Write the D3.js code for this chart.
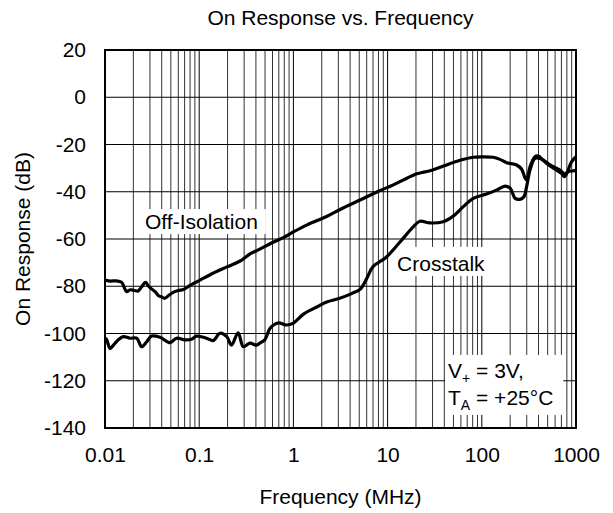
<!DOCTYPE html>
<html>
<head>
<meta charset="utf-8">
<script src="https://cdn.jsdelivr.net/npm/d3@7"></script>
<style>
  body { margin: 0; background: #fff; }
  svg text { font-family: "Liberation Sans", Arial, sans-serif; fill: #000; }
</style>
</head>
<body>
<div id="chart"></div>
<script>
// chart texts
const title = "On Response vs. Frequency";
const xLabel = "Frequency (MHz)";
const yLabel = "On Response (dB)";

// axis ticks
const xTicks = [0.01, 0.1, 1, 10, 100, 1000];
const yTicks = [20, 0, -20, -40, -60, -80, -100, -120, -140];

// Off-Isolation curve (MHz, dB)
const offIsoFreq = [0.01, 0.0115, 0.013, 0.015, 0.016, 0.017, 0.0185, 0.0205, 0.0225, 0.0245,
  0.027, 0.029, 0.031, 0.034, 0.037, 0.040, 0.043, 0.047, 0.053, 0.06, 0.068, 0.08, 0.1,
  0.14, 0.2, 0.28, 0.35, 0.44, 0.6, 0.8, 1.0, 1.4, 2.25, 3.2, 5.1, 8, 11.5, 16, 20.4, 25,
  30, 40, 58.7, 81, 100, 132, 156, 184, 234, 265, 287, 300, 325, 367, 398, 450, 552, 676,
  764, 828, 1000];
const offIsoDb = [-77.4, -77.8, -77.7, -78.3, -80.5, -82.3, -81.5, -81.8, -82.0, -80.2,
  -78.3, -80.0, -81.0, -82.3, -84.0, -84.5, -85.1, -84.0, -82.6, -81.8, -81.4, -79.6, -77.6,
  -74.5, -71.7, -69.0, -66.2, -64.3, -61.5, -59.2, -57.0, -54.0, -50.5, -47.3, -43.5, -39.8,
  -37.1, -34.3, -32.4, -31.6, -30.8, -29.0, -26.7, -25.4, -25.2, -25.4, -26.3, -27.7, -28.7,
  -30.5, -34.0, -35.0, -29.4, -25.2, -24.9, -26.6, -29.1, -30.8, -32.5, -31.5, -31.1];

// Crosstalk curve (MHz, dB)
const xtalkFreq = [0.01, 0.0104, 0.0113, 0.0123, 0.0138, 0.0156, 0.0184, 0.0217, 0.0245,
  0.0277, 0.0313, 0.0384, 0.049, 0.0576, 0.0706, 0.083, 0.094, 0.1196, 0.141, 0.166, 0.196,
  0.22, 0.259, 0.294, 0.345, 0.405, 0.44, 0.5, 0.56, 0.61, 0.7, 0.85, 1.0, 1.28, 1.77, 2.25,
  3.1, 4.2, 5.1, 5.96, 7.0, 9.6, 13.4, 18.6, 22, 28, 38.8, 49.7, 63.7, 81.3, 112, 143, 177,
  200, 226, 254, 280, 299, 325, 367, 416, 488, 580, 700, 758, 899, 1000];
const xtalkDb = [-102, -102.5, -106.3, -104.9, -102.7, -101.3, -102, -102, -105.6,
  -103.5, -101.1, -101.6, -103.9, -102, -102.7, -102.4, -101.1, -102, -103, -99.9, -101.3,
  -104.9, -99.7, -105.6, -104.1, -104.9, -104.1, -102.5, -98, -96.5, -95.5, -96.4, -95.6,
  -91.8, -88.8, -86.7, -85.1, -83.0, -81.3, -77, -71.7, -67.8, -61.5, -55.0, -52.5, -53.2,
  -52.7, -50.3, -46.3, -42.8, -41.0, -39.3, -37.6, -38.5, -42.8, -43.2, -42.1, -37.8, -30.8,
  -25.9, -25.9, -28.0, -30.1, -32.2, -33.6, -27.3, -25.2];

const width = 613, height = 513;
const margin = {top: 50, right: 37, bottom: 85, left: 105};
const fontSize = 21;

const svg = d3.select("#chart").append("svg")
  .attr("width", width)
  .attr("height", height);

const x = d3.scaleLog()
  .domain([0.01, 1000])
  .range([margin.left, width - margin.right]);

const y = d3.scaleLinear()
  .domain([-140, 20])
  .range([height - margin.bottom, margin.top]);

const isDecade = d => Math.abs(Math.log10(d) - Math.round(Math.log10(d))) < 1e-6;

// grid
const grid = svg.append("g");
grid.selectAll("line.v")
  .data(x.ticks())
  .enter().append("line")
  .attr("class", "v")
  .attr("x1", d => x(d)).attr("x2", d => x(d))
  .attr("y1", y(20)).attr("y2", y(-140))
  .attr("stroke", d => isDecade(d) ? "#000" : "#333")
  .attr("stroke-width", 1);

grid.selectAll("line.h")
  .data(yTicks)
  .enter().append("line")
  .attr("class", "h")
  .attr("x1", x(0.01)).attr("x2", x(1000))
  .attr("y1", d => y(d)).attr("y2", d => y(d))
  .attr("stroke", "#000")
  .attr("stroke-width", 1);

// labels with white boxes (under the curves)
const addBoxedText = (f, db, lines, pad) => {
  const g = svg.append("g");
  const rect = g.append("rect").attr("fill", "#fff");
  const t = g.append("text")
    .attr("font-size", fontSize);
  lines.forEach((parts, i) => {
    parts.forEach((p, j) => {
      const ts = t.append("tspan").text(p.text);
      if (j === 0) ts.attr("x", x(f)).attr("y", y(db) + i * 27);
      if (p.sub) ts.attr("font-size", 14).attr("dy", 5);
      else if (j > 0 && parts[j - 1].sub) ts.attr("dy", -5);
    });
  });
  const b = t.node().getBBox();
  rect.attr("x", b.x - pad[3]).attr("y", b.y - pad[0])
    .attr("width", b.width + pad[1] + pad[3])
    .attr("height", b.height + pad[0] + pad[2]);
};

addBoxedText(0.0266, -55.8, [[{text: "Off-Isolation"}]], [1, 8, 1, 5]);
addBoxedText(12.6, -73.5, [[{text: "Crosstalk"}]], [5, 2, 1, 7]);
addBoxedText(43.8, -118.8, [
  [{text: "V"}, {text: "+", sub: true}, {text: " = 3V,"}],
  [{text: "T"}, {text: "A", sub: true}, {text: " = +25°C"}]
], [4, 10, 2, 3]);

// curves
const line = d3.line()
  .x(d => x(d[0]))
  .y(d => y(d[1]))
  .curve(d3.curveCatmullRom.alpha(0.5));

const offIso = offIsoFreq.map((f, i) => [f, offIsoDb[i]]);
const xtalk = xtalkFreq.map((f, i) => [f, xtalkDb[i]]);

[offIso, xtalk].forEach(series => {
  svg.append("path")
    .datum(series)
    .attr("d", line)
    .attr("fill", "none")
    .attr("stroke", "#000")
    .attr("stroke-width", 3.2)
    .attr("stroke-linejoin", "round");
});

// border
svg.append("rect")
  .attr("x", x(0.01)).attr("y", y(20))
  .attr("width", x(1000) - x(0.01))
  .attr("height", y(-140) - y(20))
  .attr("fill", "none")
  .attr("stroke", "#000")
  .attr("stroke-width", 2);

// axes (plain hyphen for negatives, as in the original)
const xAxis = svg.append("g")
  .attr("transform", `translate(0,${y(-140)})`)
  .call(d3.axisBottom(x).tickValues(xTicks).tickFormat(d => String(d)).tickSize(0).tickPadding(19));

const yAxis = svg.append("g")
  .attr("transform", `translate(${x(0.01)},0)`)
  .call(d3.axisLeft(y).tickValues(yTicks).tickFormat(d => String(d)).tickSize(0).tickPadding(19));

[xAxis, yAxis].forEach(a => {
  a.select(".domain").remove();
  a.selectAll("text")
    .attr("font-size", fontSize)
    .attr("font-family", "'Liberation Sans', Arial, sans-serif")
    .attr("fill", "#000");
});

// titles
const cx = (x(0.01) + x(1000)) / 2;
svg.append("text")
  .attr("x", cx).attr("y", 25)
  .attr("text-anchor", "middle")
  .attr("font-size", fontSize)
  .text(title);

svg.append("text")
  .attr("x", cx).attr("y", 504)
  .attr("text-anchor", "middle")
  .attr("font-size", fontSize)
  .text(xLabel);

svg.append("text")
  .attr("transform", `translate(30,${(y(20) + y(-140)) / 2}) rotate(-90)`)
  .attr("text-anchor", "middle")
  .attr("font-size", fontSize)
  .text(yLabel);
</script>
</body>
</html>
